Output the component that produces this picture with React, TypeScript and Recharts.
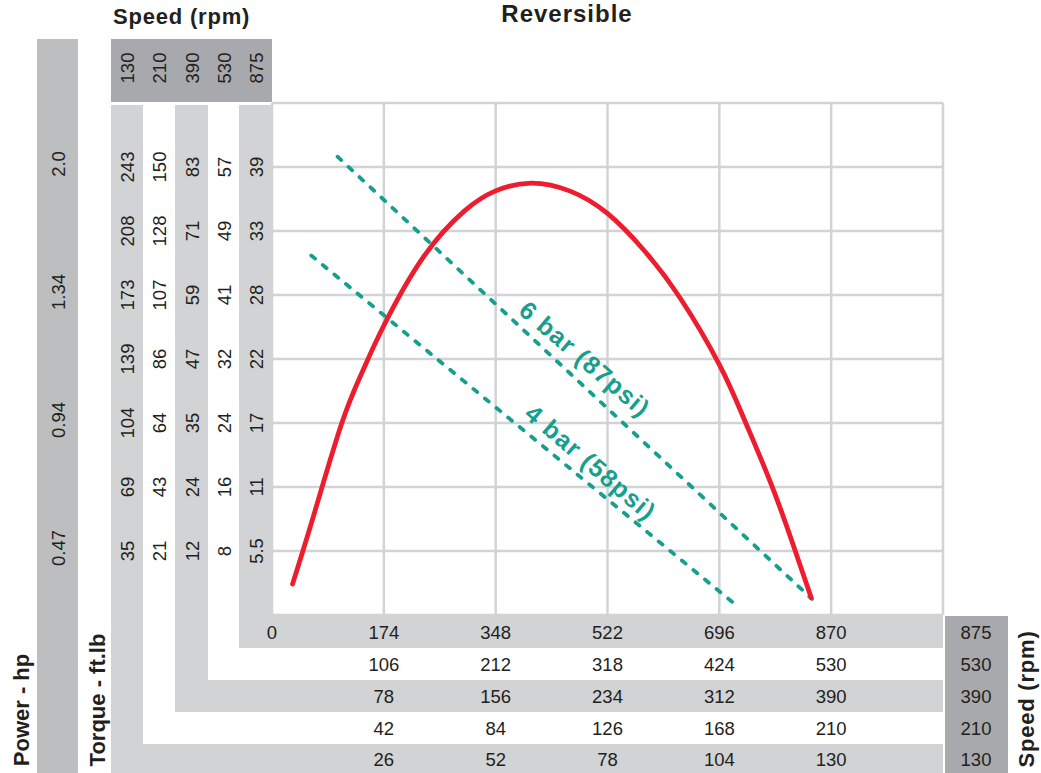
import { ComposedChart, Line, XAxis, YAxis, CartesianGrid, ReferenceDot } from "recharts";

const FONT = '"Liberation Sans", Arial, Helvetica, sans-serif';
const INK = "#231f20";
const LIGHT = "#d1d3d4";
const DARK = "#a7a9ac";
const MID = "#bcbec0";
const RED = "#ed1c2e";
const TEAL = "#169f8e";

// speed models (rpm), left column to right column
const SPEEDS = [130, 210, 390, 530, 875];

// x axis ticks, in the 875 rpm scale
const X_TICKS = [0, 174, 348, 522, 696, 870, 1044];
// one grid step of torque for the 875 rpm model
const Y_STEP = 39 / 7;
const Y_TICKS = [0, 1, 2, 3, 4, 5, 6, 7, 8].map((i) => i * Y_STEP);

// torque labels (ft.lb) per speed column, bottom to top
const torque130 = ["35", "69", "104", "139", "173", "208", "243"];
const torque210 = ["21", "43", "64", "86", "107", "128", "150"];
const torque390 = ["12", "24", "35", "47", "59", "71", "83"];
const torque530 = ["8", "16", "24", "32", "41", "49", "57"];
const torque875 = ["5.5", "11", "17", "22", "28", "33", "39"];
// power labels (hp), every second grid line
const powerHp = ["0.47", "0.94", "1.34", "2.0"];

// bottom rows, one per speed model
const row875 = ["0", "174", "348", "522", "696", "870"];
const row530 = ["106", "212", "318", "424", "530"];
const row390 = ["78", "156", "234", "312", "390"];
const row210 = ["42", "84", "126", "168", "210"];
const row130 = ["26", "52", "78", "104", "130"];

// curves
const reversibleCurve = [
  { x: 32, y: 2.7 },
  { x: 65, y: 8.7 },
  { x: 108, y: 16.6 },
  { x: 140, y: 21.1 },
  { x: 174, y: 25.2 },
  { x: 236, y: 31.2 },
  { x: 300, y: 35.2 },
  { x: 347, y: 36.9 },
  { x: 403, y: 37.6 },
  { x: 464, y: 36.9 },
  { x: 521, y: 35.0 },
  { x: 578, y: 31.8 },
  { x: 635, y: 27.6 },
  { x: 696, y: 21.8 },
  { x: 735, y: 17.0 },
  { x: 778, y: 11.2 },
  { x: 814, y: 5.6 },
  { x: 839, y: 1.5 },
];
const bar6 = [
  { x: 102, y: 39.9 },
  { x: 840, y: 1.4 },
];
const bar4 = [
  { x: 61, y: 31.3 },
  { x: 719, y: 1.0 },
];

// layout
const W = 1041;
const H = 773;
const PLOT_L = 272;
const PLOT_T = 103;
const PLOT_R = 943;
const PLOT_B = 615;
const COL_X = [127.5, 159.5, 192, 224, 256];
const ROW_Y = [632, 664, 696, 728, 759];
const NUM = 18.5;

const colLabels = [torque130, torque210, torque390, torque530, torque875];
const rowLabels = [row875, row530, row390, row210, row130];

function VText({ x, y, children, size = NUM, weight = 400 }: any) {
  // rotated -90, centred on (x, y)
  return (
    <text
      transform={`translate(${x + size * 0.36},${y}) rotate(-90)`}
      textAnchor="middle"
      fontFamily={FONT}
      fontSize={size}
      fontWeight={weight}
      fill={INK}
    >
      {children}
    </text>
  );
}

function HText({ x, y, children }: any) {
  return (
    <text x={x} y={y + NUM * 0.36} textAnchor="middle" fontFamily={FONT} fontSize={NUM} fill={INK}>
      {children}
    </text>
  );
}

function XTick(props: any) {
  const { x, payload } = props;
  const i = X_TICKS.indexOf(payload.value);
  return (
    <g>
      {rowLabels.map((row, r) => {
        const v = r === 0 ? row[i] : row[i - 1];
        if (v === undefined) return null;
        return (
          <HText key={r} x={x} y={ROW_Y[r]}>
            {v}
          </HText>
        );
      })}
    </g>
  );
}

function YTick(props: any) {
  const { y, payload } = props;
  const i = Math.round(payload.value / Y_STEP);
  if (i < 1 || i > 7) return <g />;
  return (
    <g>
      {colLabels.map((col, c) => (
        <VText key={c} x={COL_X[c]} y={y}>
          {col[i - 1]}
        </VText>
      ))}
      {i % 2 === 1 && <VText x={58} y={y - 3}>{powerHp[(i - 1) / 2]}</VText>}
    </g>
  );
}

function LineLabel({ cx, cy, text }: any) {
  return (
    <text
      transform={`translate(${cx},${cy}) rotate(40.5)`}
      textAnchor="middle"
      dy="0.36em"
      fontFamily={FONT}
      fontSize={25}
      fontWeight={700}
      letterSpacing={1.2}
      fill={TEAL}
    >
      {text}
    </text>
  );
}

function Frame() {
  return (
    <svg width={W} height={H} style={{ position: "absolute", left: 0, top: 0 }}>
      <rect x={37} y={39} width={41} height={H - 39} fill={MID} />
      <rect x={111} y={39} width={161} height={63} fill={DARK} />
      {/* L shaped bands: 130, 390, 875 */}
      <rect x={111} y={105} width={32} height={H - 105} fill={LIGHT} />
      <rect x={111} y={744} width={PLOT_R - 111} height={H - 744} fill={LIGHT} />
      <rect x={175} y={105} width={33} height={712 - 105} fill={LIGHT} />
      <rect x={175} y={680} width={PLOT_R - 175} height={32} fill={LIGHT} />
      <rect x={239} y={105} width={33} height={648 - 105} fill={LIGHT} />
      <rect x={239} y={616} width={PLOT_R - 239} height={32} fill={LIGHT} />
      <rect x={945} y={616} width={63} height={H - 616} fill={DARK} />

      {SPEEDS.map((s, c) => (
        <VText key={s} x={COL_X[c]} y={68}>
          {s}
        </VText>
      ))}
      {[...SPEEDS].reverse().map((s, r) => (
        <HText key={s} x={976} y={ROW_Y[r]}>
          {s}
        </HText>
      ))}

      <text x={113} y={24} fontFamily={FONT} fontSize={22} fontWeight={700} letterSpacing={0.8} fill={INK}>
        Speed (rpm)
      </text>
      <text x={567} y={22} textAnchor="middle" fontFamily={FONT} fontSize={24} fontWeight={700} letterSpacing={1} fill={INK}>
        Reversible
      </text>
      <text transform="translate(29,710) rotate(-90)" textAnchor="middle" fontFamily={FONT} fontSize={22} fontWeight={700} fill={INK}>
        Power - hp
      </text>
      <text transform="translate(105,700) rotate(-90)" textAnchor="middle" fontFamily={FONT} fontSize={22} fontWeight={700} fill={INK}>
        Torque - ft.lb
      </text>
      <text transform="translate(1034,699) rotate(-90)" textAnchor="middle" fontFamily={FONT} fontSize={22} fontWeight={700} letterSpacing={0.8} fill={INK}>
        Speed (rpm)
      </text>
    </svg>
  );
}

export default function App() {
  return (
    <div style={{ position: "absolute", left: 0, top: 0, width: W, height: H, background: "#fff" }}>
      <Frame />
      <div style={{ position: "absolute", left: 0, top: 0 }}>
        <ComposedChart
          width={W}
          height={H}
          margin={{ top: PLOT_T, right: W - PLOT_R, bottom: 0, left: 0 }}
        >
          <CartesianGrid stroke={LIGHT} strokeWidth={2.5} />
          <XAxis
            dataKey="x"
            type="number"
            domain={[0, 1044]}
            ticks={X_TICKS}
            interval={0}
            height={H - PLOT_B}
            axisLine={false}
            tickLine={false}
            tick={<XTick />}
          />
          <YAxis
            type="number"
            domain={[0, 8 * Y_STEP]}
            ticks={Y_TICKS}
            interval={0}
            width={PLOT_L}
            axisLine={false}
            tickLine={false}
            tick={<YTick />}
          />
          <Line
            data={bar6}
            dataKey="y"
            stroke={TEAL}
            strokeWidth={3.8}
            strokeDasharray="5 10"
            strokeLinecap="round"
            dot={false}
            isAnimationActive={false}
          />
          <Line
            data={bar4}
            dataKey="y"
            stroke={TEAL}
            strokeWidth={3.8}
            strokeDasharray="5 10"
            strokeLinecap="round"
            dot={false}
            isAnimationActive={false}
          />
          <Line
            data={reversibleCurve}
            dataKey="y"
            type="natural"
            stroke={RED}
            strokeWidth={4.8}
            strokeLinecap="round"
            dot={false}
            isAnimationActive={false}
          />
          <ReferenceDot x={487} y={22.3} r={0} shape={(p: any) => <LineLabel {...p} text="6 bar (87psi)" />} />
          <ReferenceDot x={496} y={13.3} r={0} shape={(p: any) => <LineLabel {...p} text="4 bar (58psi)" />} />
        </ComposedChart>
      </div>
    </div>
  );
}
